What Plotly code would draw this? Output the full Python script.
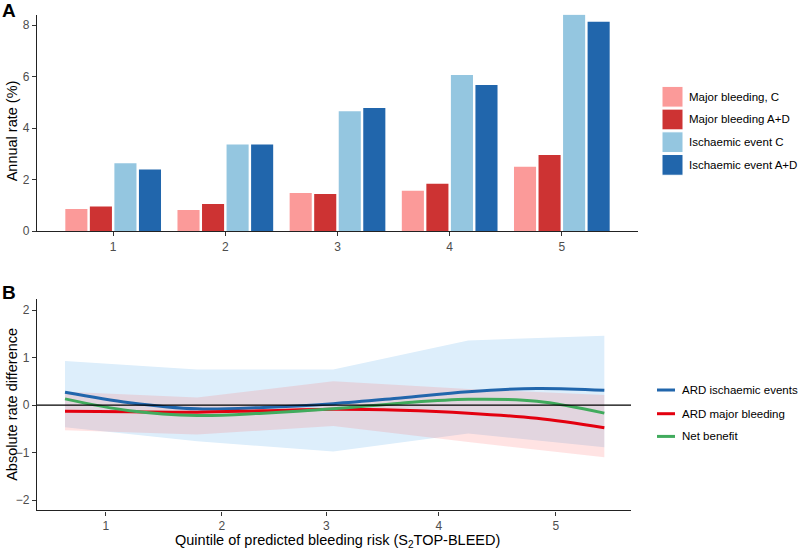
import plotly.graph_objects as go

# ---------------- data ----------------
quintiles = [1, 2, 3, 4, 5]
quintile_labels = ["1", "2", "3", "4", "5"]

bar_series = ["Major bleeding, C", "Major bleeding A+D", "Ischaemic event C", "Ischaemic event A+D"]
major_bleeding_c = [0.86, 0.82, 1.48, 1.57, 2.50]
major_bleeding_ad = [0.95, 1.05, 1.44, 1.84, 2.95]
ischaemic_c = [2.63, 3.36, 4.65, 6.06, 8.41]
ischaemic_ad = [2.39, 3.36, 4.78, 5.67, 8.13]
bar_colors = ["#FB9A99", "#CD3333", "#94C6E0", "#2166AC"]

# panel B: tick positions of quintiles on the continuous risk axis
quintile_tick_pos = [1.0, 2.03, 2.96, 3.96, 5.0]

band_x = [0.636, 1.81, 3.02, 4.22, 5.43]
isch_upper = [0.93, 0.75, 0.75, 1.36, 1.46]
isch_lower = [-0.47, -0.76, -0.98, -0.60, -0.89]
bleed_upper = [0.28, 0.16, 0.50, 0.34, 0.21]
bleed_lower = [-0.53, -0.62, -0.44, -0.78, -1.10]

curve_x = [0.636, 1.21, 1.81, 2.4, 3.02, 3.62, 4.22, 4.83, 5.43]
ard_isch = [0.27, 0.05, -0.08, -0.05, 0.03, 0.15, 0.28, 0.35, 0.31]
ard_bleed = [-0.13, -0.14, -0.15, -0.12, -0.09, -0.11, -0.17, -0.28, -0.48]
net_benefit = [0.13, -0.12, -0.22, -0.17, -0.08, 0.04, 0.12, 0.08, -0.17]
line_series = ["ARD ischaemic events", "ARD major bleeding", "Net benefit"]
line_colors = ["#2166AC", "#E3000F", "#41AB5D"]

FONT = "Liberation Sans, Arial, sans-serif"
W, H = 800, 554

def px(x):
    return x / W

def py(y):
    return 1 - y / H

fig = go.Figure()

# ---------------- panel A: bars ----------------
for name, vals, col in zip(bar_series, [major_bleeding_c, major_bleeding_ad, ischaemic_c, ischaemic_ad], bar_colors):
    fig.add_trace(go.Bar(x=quintiles, y=vals, name=name, marker=dict(color=col, line=dict(width=0)),
                         xaxis="x", yaxis="y", showlegend=False, hoverinfo="y"))

# ---------------- panel B: bands and curves ----------------
fig.add_trace(go.Scatter(x=band_x, y=isch_upper, mode="lines", line=dict(width=0), xaxis="x2", yaxis="y2",
                         showlegend=False, hoverinfo="skip"))
fig.add_trace(go.Scatter(x=band_x, y=isch_lower, mode="lines", line=dict(width=0), fill="tonexty",
                         fillcolor="rgb(221,238,251)", xaxis="x2", yaxis="y2", showlegend=False, hoverinfo="skip"))
fig.add_trace(go.Scatter(x=band_x, y=bleed_upper, mode="lines", line=dict(width=0), xaxis="x2", yaxis="y2",
                         showlegend=False, hoverinfo="skip"))
fig.add_trace(go.Scatter(x=band_x, y=bleed_lower, mode="lines", line=dict(width=0), fill="tonexty",
                         fillcolor="rgba(255,90,90,0.17)", xaxis="x2", yaxis="y2", showlegend=False, hoverinfo="skip"))

for name, vals, col in zip(line_series, [ard_isch, ard_bleed, net_benefit], line_colors):
    fig.add_trace(go.Scatter(x=curve_x, y=vals, mode="lines", name=name,
                             line=dict(color=col, width=3, shape="spline", smoothing=1.0),
                             xaxis="x2", yaxis="y2", showlegend=False))

axis_common = dict(showgrid=False, zeroline=False, showline=True, linecolor="#222222", linewidth=1.2,
                   ticks="outside", ticklen=4, tickwidth=1, tickcolor="#333333",
                   tickfont=dict(family=FONT, size=12, color="#4D4D4D"))

fig.update_layout(
    width=W, height=H,
    margin=dict(l=0, r=0, t=0, b=0),
    paper_bgcolor="white", plot_bgcolor="white",
    barmode="group", bargap=0.125, bargroupgap=0.1,
    font=dict(family=FONT),
    xaxis=dict(domain=[px(37), px(638)], range=[0.321, 5.679], tickvals=quintiles, ticktext=quintile_labels,
               anchor="y", **axis_common),
    yaxis=dict(domain=[py(234), py(15)], range=[0, 8.40], tickvals=[0, 2, 4, 6, 8], anchor="x", **axis_common),
    xaxis2=dict(domain=[px(37), px(631)], range=[0.387, 5.667], tickvals=quintile_tick_pos,
                ticktext=quintile_labels, anchor="y2", **axis_common),
    yaxis2=dict(domain=[py(517), py(303)], range=[-2.22, 2.23], tickvals=[-2, -1, 0, 1, 2], anchor="x2",
                **axis_common),
)

shapes = []
annotations = []

# zero line in B
shapes.append(dict(type="line", xref="x2 domain", yref="y2", x0=0, x1=1, y0=0, y1=0,
                   line=dict(color="black", width=1.2)))

# legend A
leg_a_y = [98, 121, 144, 167]
for name, col, yc in zip(bar_series, bar_colors, leg_a_y):
    shapes.append(dict(type="rect", xref="paper", yref="paper", x0=px(662), x1=px(683),
                       y0=py(yc + 10.5), y1=py(yc - 10.5), fillcolor=col, line=dict(width=1, color="white")))
    annotations.append(dict(xref="paper", yref="paper", x=px(687), y=py(yc), text=name, showarrow=False,
                            xanchor="left", yanchor="middle", font=dict(family=FONT, size=11.5, color="black")))

# legend B
leg_b_y = [395, 419, 442]
for name, col, yc in zip(line_series, line_colors, leg_b_y):
    shapes.append(dict(type="line", xref="paper", yref="paper", x0=px(657), x1=px(675), y0=py(yc), y1=py(yc),
                       line=dict(color=col, width=3)))
    annotations.append(dict(xref="paper", yref="paper", x=px(680), y=py(yc), text=name, showarrow=False,
                            xanchor="left", yanchor="middle", font=dict(family=FONT, size=11.5, color="black")))

# axis titles
annotations.append(dict(xref="paper", yref="paper", x=px(12), y=py(133), text="Annual rate (%)", textangle=-90,
                        showarrow=False, xanchor="center", yanchor="middle",
                        font=dict(family=FONT, size=14.5, color="black")))
annotations.append(dict(xref="paper", yref="paper", x=px(12), y=py(410), text="Absolute rate difference",
                        textangle=-90, showarrow=False, xanchor="center", yanchor="middle",
                        font=dict(family=FONT, size=14.5, color="black")))
annotations.append(dict(xref="paper", yref="paper", x=px(337), y=py(548),
                        text="Quintile of predicted bleeding risk (S<sub>2</sub>TOP-BLEED)",
                        showarrow=False, xanchor="center", yanchor="middle",
                        font=dict(family=FONT, size=14.5, color="black")))

# panel tags
annotations.append(dict(xref="paper", yref="paper", x=px(0), y=py(11), text="<b>A</b>", showarrow=False,
                        xanchor="left", yanchor="middle", font=dict(family=FONT, size=19, color="black")))
annotations.append(dict(xref="paper", yref="paper", x=px(0), y=py(296), text="<b>B</b>", showarrow=False,
                        xanchor="left", yanchor="middle", font=dict(family=FONT, size=19, color="black")))

fig.update_layout(shapes=shapes, annotations=annotations)

fig.write_html("out.html", config={"displayModeBar": False},
               post_script="document.body.style.margin='0';document.body.style.overflow='hidden';")
